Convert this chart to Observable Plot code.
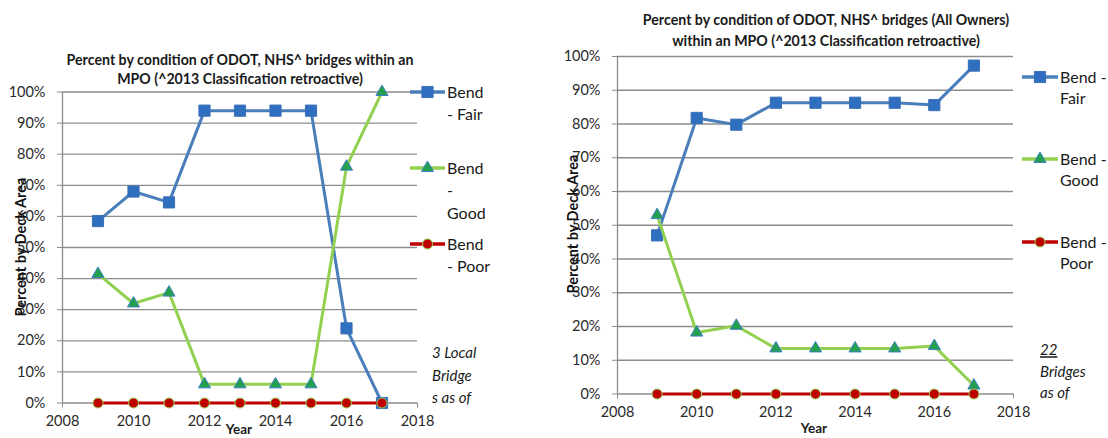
<!DOCTYPE html>
<html>
<head>
<meta charset="utf-8">
<script src="https://cdn.jsdelivr.net/npm/d3@7"></script>
<script src="https://cdn.jsdelivr.net/npm/@observablehq/plot@0.6"></script>
<style>
  html, body { margin: 0; padding: 0; background: #fff; }
  #wrap { position: relative; width: 1108px; height: 438px; overflow: hidden; font-family: Lato, "Open Sans", sans-serif; }
  .panel { position: absolute; top: 0; width: 554px; height: 438px; }
  .panel svg { overflow: visible; }
</style>
</head>
<body>
<div id="wrap">
  <div class="panel" id="left" style="left:0px"></div>
  <div class="panel" id="right" style="left:554px"></div>
</div>
<script>
// ---- data ----
const years = [2009, 2010, 2011, 2012, 2013, 2014, 2015, 2016, 2017];
const seriesNames = ["Bend - Fair", "Bend - Good", "Bend - Poor"];
const leftFair = [58.5, 68, 64.5, 94, 94, 94, 94, 24, 0];
const leftGood = [41.5, 32, 35.5, 6, 6, 6, 6, 76, 100];
const leftPoor = [0, 0, 0, 0, 0, 0, 0, 0, 0];
const rightFair = [47, 81.8, 79.8, 86.3, 86.3, 86.3, 86.3, 85.6, 97.3];
const rightGood = [53, 18.2, 20.2, 13.5, 13.5, 13.5, 13.5, 14.2, 2.5];
const rightPoor = [0, 0, 0, 0, 0, 0, 0, 0, 0];
const xTicks = [2008, 2010, 2012, 2014, 2016, 2018];
const yTicks = [0, 10, 20, 30, 40, 50, 60, 70, 80, 90, 100];
const leftTitle = ["Percent by condition of ODOT, NHS^ bridges within an", "MPO (^2013 Classification retroactive)"];
const rightTitle = ["Percent by condition of ODOT, NHS^ bridges (All Owners)", "within an MPO (^2013 Classification retroactive)"];
const leftLegend = [["Bend", "- Fair"], ["Bend", "-", "Good"], ["Bend", "- Poor"]];
const rightLegend = [["Bend -", "Fair"], ["Bend -", "Good"], ["Bend -", "Poor"]];
const leftNote = ["3 Local", "Bridge", "s as of"];
const rightNote = ["22", "Bridges", "as of"];
const yLabel = "Percent by Deck Area";
const xLabel = "Year";

// ---- styles ----
const styles = {
  "Bend - Fair": {line: "#4a7ebb", fill: "#2f6fc0", stroke: "#3b6fb5", symbol: "square", r: 6.3},
  "Bend - Good": {line: "#92d050", fill: "#22a04b", stroke: "#3f7fc8", symbol: "triangle", r: 4.5},
  "Bend - Poor": {line: "#c00000", fill: "#c00000", stroke: "#92d050", symbol: "circle", r: 5}
};
const GRID = "#8c8c8c";
const FONT = "Lato, 'Open Sans', sans-serif";

function toLong(fair, good, poor) {
  const out = [];
  [fair, good, poor].forEach((vals, i) => {
    vals.forEach((v, j) => out.push({series: seriesNames[i], year: years[j], value: v}));
  });
  return out;
}

function makeChart(el, data, m) {
  const marks = [
    Plot.gridY(yTicks, {stroke: GRID, strokeOpacity: 1, strokeWidth: 1.3}),
    Plot.ruleX([2008], {stroke: GRID, strokeWidth: 1.3}),
    Plot.axisY(yTicks, {tickSize: 5, tickPadding: 12, tickFormat: d => d + "%", stroke: GRID, fill: "#2a2a2a", label: null}),
    Plot.axisX(xTicks, {tickSize: 5, tickPadding: 8, tickFormat: "d", stroke: GRID, fill: "#2a2a2a", label: null})
  ];
  for (const s of seriesNames) {
    const st = styles[s];
    const d = data.filter(r => r.series === s);
    marks.push(Plot.line(d, {x: "year", y: "value", stroke: st.line, strokeWidth: 3}));
    marks.push(Plot.dot(d, {x: "year", y: "value", symbol: st.symbol, r: st.r, fill: st.fill, stroke: st.stroke, strokeWidth: 1}));
  }
  const svg = Plot.plot({
    width: 554, height: 438,
    marginLeft: m.left, marginRight: m.right, marginTop: m.top, marginBottom: m.bottom,
    style: {fontFamily: FONT, fontSize: "14.5px", color: "#222", background: "transparent", overflow: "visible"},
    x: {domain: [2008, 2018], label: null},
    y: {domain: [0, 100], label: null},
    marks
  });
  el.appendChild(svg);
  return d3.select(svg);
}

function addText(svg, lines, x, ys, opts) {
  lines.forEach((t, i) => {
    const tx = svg.append("text")
      .attr("x", x).attr("y", ys[i]).attr("dy", "0.35em")
      .attr("text-anchor", opts.anchor || "start")
      .attr("font-family", FONT)
      .attr("font-size", opts.size)
      .attr("font-weight", opts.weight || "normal")
      .attr("font-style", opts.style || "normal")
      .attr("fill", "#1a1a1a")
      .text(t);
    if (opts.underlineFirst && i === 0) tx.attr("text-decoration", "underline");
  });
}

function addLegend(svg, items, x1, x2, ys, lineGap, textX, size) {
  seriesNames.forEach((s, i) => {
    const st = styles[s];
    const y = ys[i];
    svg.append("line").attr("x1", x1).attr("x2", x2).attr("y1", y).attr("y2", y)
      .attr("stroke", st.line).attr("stroke-width", 3.5);
    const sym = {square: d3.symbolSquare, triangle: d3.symbolTriangle, circle: d3.symbolCircle}[st.symbol];
    svg.append("path").attr("d", d3.symbol(sym, Math.PI * st.r * st.r)())
      .attr("transform", `translate(${(x1 + x2) / 2},${y})`)
      .attr("fill", st.fill).attr("stroke", st.stroke);
    addText(svg, items[i], textX, items[i].map((_, k) => y + k * lineGap), {size: size});
  });
}

function addYLabel(svg, x, y) {
  svg.append("text").attr("transform", `translate(${x},${y}) rotate(-90)`)
    .attr("text-anchor", "middle").attr("dy", "0.35em")
    .attr("font-family", FONT).attr("font-size", 14.5).attr("font-weight", "bold")
    .attr("fill", "#111").text(yLabel);
}

// ---- left panel ----
const L = makeChart(document.getElementById("left"), toLong(leftFair, leftGood, leftPoor),
  {left: 62, right: 137, top: 91.5, bottom: 35.5});
addText(L, leftTitle, 240, [60, 79], {size: 14.2, weight: "bold", anchor: "middle"});
addYLabel(L, 21, 247);
addText(L, [xLabel], 239, [429], {size: 13.5, weight: "bold", anchor: "middle"});
addLegend(L, leftLegend, 410, 445, [92, 168, 244], 22.5, 447, 16);
addText(L, leftNote, 432, [353, 375.5, 398], {size: 15, style: "italic"});

// ---- right panel (offset 554) ----
const R = makeChart(document.getElementById("right"), toLong(rightFair, rightGood, rightPoor),
  {left: 63, right: 95, top: 56, bottom: 44.5});
addText(R, rightTitle, 826 - 554, [20, 41], {size: 14.2, weight: "bold", anchor: "middle"});
addYLabel(R, 573 - 554, 224);
addText(R, [xLabel], 814 - 554, [428], {size: 13.5, weight: "bold", anchor: "middle"});
addLegend(R, rightLegend, 1022 - 554, 1058 - 554, [77, 159, 242], 21, 1060 - 554, 16);
addText(R, rightNote, 1040 - 554, [350, 372, 393], {size: 15, style: "italic", underlineFirst: true});
</script>
</body>
</html>
